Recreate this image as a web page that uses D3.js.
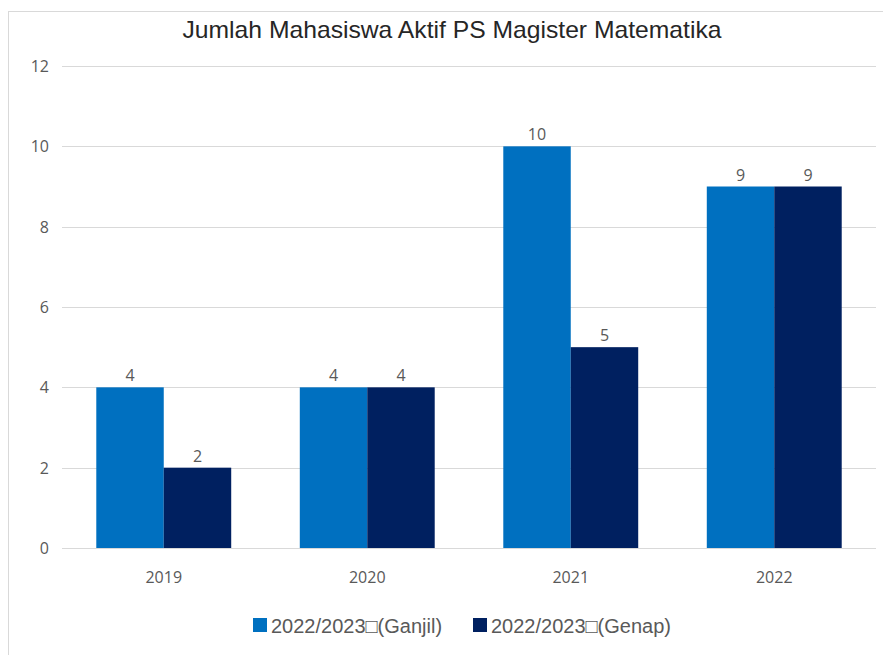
<!doctype html>
<html lang="id">
<head>
<meta charset="utf-8">
<title>Jumlah Mahasiswa Aktif PS Magister Matematika</title>
<script src="https://d3js.org/d3.v7.min.js"></script>
<style>
  body { margin: 0; background: #fff; }
  .grid line { stroke: #d9d9d9; stroke-width: 1px; }
  .tick-label { font-family: "Open Sans", sans-serif; font-size: 16px; fill: #595959; }
</style>
</head>
<body>
<svg id="chart" width="883" height="655"></svg>
<script>
const years = ["2019", "2020", "2021", "2022"];
const seriesNames = ["2022/2023\u25A1(Ganjil)", "2022/2023\u25A1(Genap)"];
const ganjil = [4, 4, 10, 9];
const genap = [2, 4, 5, 9];
const yTicks = [0, 2, 4, 6, 8, 10, 12];
const colors = ["#0070c0", "#002060"];

const svg = d3.select("#chart");
const W = 883, H = 655;

// chart frame
svg.append("rect")
  .attr("x", 8.5).attr("y", 11.5)
  .attr("width", W).attr("height", H)
  .attr("fill", "#fff").attr("stroke", "#d9d9d9");

svg.append("text")
  .attr("x", 452).attr("y", 38)
  .attr("text-anchor", "middle")
  .attr("textLength", 539).attr("lengthAdjust", "spacingAndGlyphs")
  .style("font-family", "'Liberation Sans Narrow', 'Liberation Sans', sans-serif")
  .style("font-size", "24px")
  .attr("fill", "#262626")
  .text("Jumlah Mahasiswa Aktif PS Magister Matematika");

const x = d3.scaleBand().domain(years).range([62, 876])
  .paddingInner(0.337).paddingOuter(0.1685);
const x1 = d3.scaleBand().domain([0, 1]).range([0, x.bandwidth()]);
const y = d3.scaleLinear().domain([0, 12]).range([548, 66]);

// gridlines
svg.append("g").attr("class", "grid")
  .selectAll("line").data(yTicks).join("line")
  .attr("x1", 62).attr("x2", 876)
  .attr("y1", d => Math.round(y(d)) + 0.5)
  .attr("y2", d => Math.round(y(d)) + 0.5);

// y labels
svg.append("g").selectAll("text").data(yTicks).join("text")
  .attr("class", "tick-label")
  .attr("x", 49).attr("y", d => y(d) + 6)
  .attr("text-anchor", "end")
  .text(d => d);

// x labels
svg.append("g").selectAll("text").data(years).join("text")
  .attr("class", "tick-label")
  .attr("x", d => x(d) + x.bandwidth() / 2).attr("y", 583)
  .attr("text-anchor", "middle")
  .text(d => d);

const series = [ganjil, genap];
series.forEach((vals, s) => {
  const g = svg.append("g");
  g.selectAll("rect").data(years).join("rect")
    .attr("x", d => x(d) + x1(s))
    .attr("width", x1.bandwidth())
    .attr("y", (d, i) => y(vals[i]))
    .attr("height", (d, i) => y(0) - y(vals[i]))
    .attr("fill", colors[s]);
  g.selectAll("text").data(years).join("text")
    .attr("class", "tick-label")
    .attr("x", d => x(d) + x1(s) + x1.bandwidth() / 2)
    .attr("y", (d, i) => y(vals[i]) - 6)
    .attr("text-anchor", "middle")
    .text((d, i) => vals[i]);
});

// legend
const legendX = [253, 473];
const leg = svg.append("g");
seriesNames.forEach((name, s) => {
  leg.append("rect")
    .attr("x", legendX[s]).attr("y", 618)
    .attr("width", 14).attr("height", 14)
    .attr("fill", colors[s]);
  leg.append("text")
    .attr("x", legendX[s] + 18).attr("y", 633)
    .style("font-family", "'Liberation Sans Narrow', 'Liberation Sans', sans-serif")
    .style("font-size", "20px")
    .attr("fill", "#595959")
    .text(name);
});
</script>
</body>
</html>
